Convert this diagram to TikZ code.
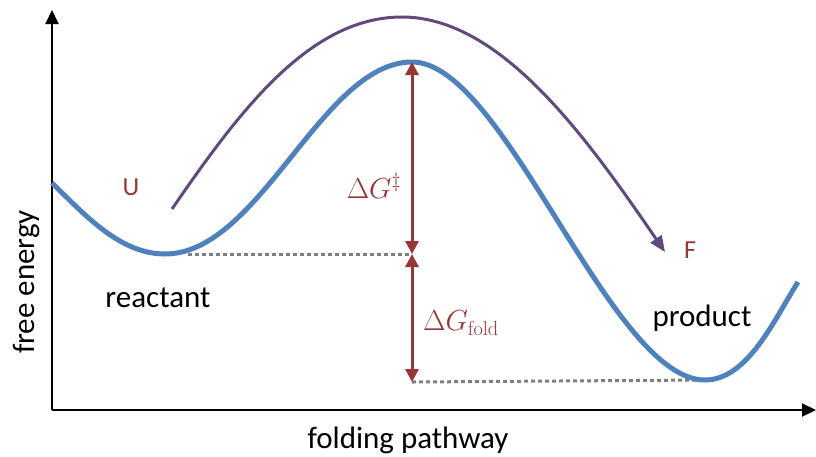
\documentclass[tikz,border=0pt]{standalone}
\usepackage{fix-cm}
\usepackage[no-math]{fontspec}
\setmainfont{Carlito}
\usetikzlibrary{arrows.meta}
\definecolor{cblue}{HTML}{4F81BD}
\definecolor{cpurple}{HTML}{604A7B}
\definecolor{cred}{HTML}{953735}
\definecolor{cgray}{HTML}{7F7F7F}
\tikzset{
  axis/.style={line width=2pt, -{Triangle[length=14pt,width=13pt]}},
  energy/.style={cblue, line width=5pt},
  path arrow/.style={cpurple, line width=3pt, -{Triangle[length=16pt,width=13pt]}},
  gap/.style={cred, line width=3pt, {Triangle[length=13pt,width=13pt]}-{Triangle[length=13pt,width=13pt]}},
  level/.style={cgray, line width=3pt, dash pattern=on 4pt off 3pt},
  lbl/.style={font=\fontsize{31}{36}\selectfont, inner sep=0pt},
  rlbl/.style={inner sep=0pt, text=cred},
}
\begin{document}
\begin{tikzpicture}[x=1pt,y=-1pt]
\useasboundingbox (0,0) rectangle (816,456);
% axes
\coordinate (O) at (52,410);
\coordinate (Ytop) at (52,10);
\coordinate (Xend) at (816,410);
\draw[axis] (O) -- (Ytop);
\draw[axis] (O) -- (Xend);
% key points
\coordinate (start) at (52,183);
\coordinate (rmin) at (165,254);
\coordinate (peak) at (412,62);
\coordinate (pmin) at (705,380);
\coordinate (finish) at (798,282);
\coordinate (gmid) at (412,254);
\coordinate (gbot) at (412,382);
\coordinate (rdot) at (188,254);
% dotted levels
\draw[level] (rdot) -- (gmid);
\draw[level] (gbot) -- (pmin);
% energy curve
\draw[energy] (start) .. controls (85,215) and (120,254) .. (rmin)
  .. controls (260,254) and (322,62) .. (peak)
  .. controls (505,62) and (610,380) .. (pmin)
  .. controls (748,380) and (775,318) .. (finish);
% pathway arrow
\coordinate (pstart) at (172,209);
\coordinate (ptop) at (402,17);
\coordinate (pend) at (665,252);
\draw[path arrow] (pstart) .. controls (240,110) and (310,17) .. (ptop)
  .. controls (500,17) and (585,135) .. (pend);
% gap arrows
\draw[gap] (peak) -- (gmid);
\draw[gap] (gmid) -- (gbot);
% labels
\node[rlbl, font=\fontsize{26}{30}\selectfont] (U) at (131,187) {U};
\node[rlbl, font=\fontsize{26}{30}\selectfont] (F) at (690,250) {F};
\node[rlbl, font=\fontsize{29}{34}\selectfont] (dGt) at (374,186) {$\Delta G^{\ddagger}$};
\node[rlbl, font=\fontsize{29}{34}\selectfont] (dGf) at (461,323) {$\Delta G_{\mathrm{fold}}$};
\node[lbl] (react) at (158,298) {reactant};
\node[lbl] (prod) at (702,318) {product};
\node[lbl, rotate=90] (fe) at (27,282) {free energy};
\node[lbl] (fp) at (408,440) {folding pathway};
\end{tikzpicture}
\end{document}
